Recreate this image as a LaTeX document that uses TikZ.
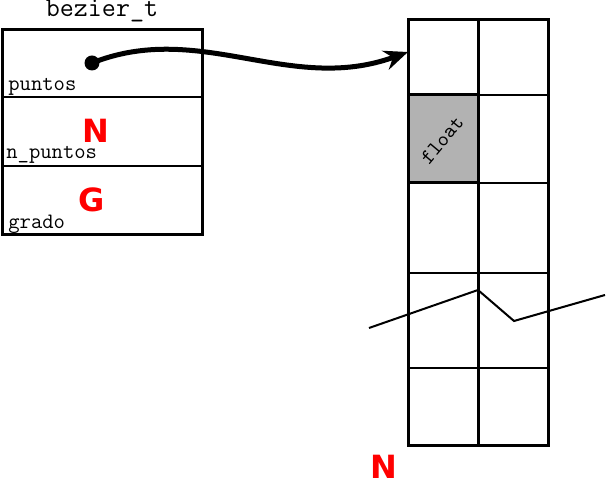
\documentclass[tikz,border=0pt]{standalone}
\usepackage{fontspec}
\newfontfamily\valuefont{DejaVu Sans}
\usetikzlibrary{arrows.meta}
\tikzset{
  boxline/.style={line width=1.5pt},
  cellline/.style={line width=0.75pt},
  fieldname/.style={anchor=base west, inner sep=0pt, font=\fontsize{11}{13}\selectfont\ttfamily},
  fieldvalue/.style={text=red, inner sep=0pt, font=\fontsize{16}{19}\selectfont\valuefont\bfseries},
  pointer/.style={line width=2.5pt, -{Stealth[length=12pt,width=10pt,inset=4pt]}},
}
\begin{document}
\begin{tikzpicture}[x=0.5pt,y=-0.5pt]
  \useasboundingbox (0,0) rectangle (606,480);

  % struct bezier_t
  \node[inner sep=0pt, anchor=base, font=\fontsize{13.6}{16}\selectfont\ttfamily] (title) at (102,17) {bezier\_t};
  \draw[boxline] (2,30) rectangle (202,235);
  \draw[cellline] (2,97) -- (202,97);
  \draw[cellline] (2,166) -- (202,166);
  \node[fieldname] (puntos) at (8,91) {puntos};
  \node[fieldname] (npuntos) at (6,159) {n\_puntos};
  \node[fieldname] (grado) at (8,229) {grado};
  \node[fieldvalue] (valN) at (96,131) {N};
  \node[fieldvalue] (valG) at (92,200) {G};
  \node[circle, fill, inner sep=0pt, minimum size=7.5pt] (dot) at (92,63) {};

  % array of floats
  \fill[black!30] (408,95) rectangle (478,183);
  \foreach \y in {95,183,273,368}
    \draw[cellline] (408,\y) -- (548,\y);
  \draw[boxline] (408,95) rectangle (478,183);
  \draw[boxline] (408,20) rectangle (548,446);
  \draw[boxline] (478,20) -- (478,446);
  \node[rotate=50, inner sep=0pt, font=\fontsize{10.5}{12}\selectfont\ttfamily] (float) at (442,140) {float};
  \coordinate (first) at (408,52);
  \node[fieldvalue] (size) at (384,467) {N};

  % break in the array
  \draw[line width=1pt] (369,328) -- (478,290) -- (514,321) -- (605,295);

  % pointer to the first element
  \draw[pointer] (dot.center) .. controls (200,20) and (290,95) .. (first);
\end{tikzpicture}
\end{document}
